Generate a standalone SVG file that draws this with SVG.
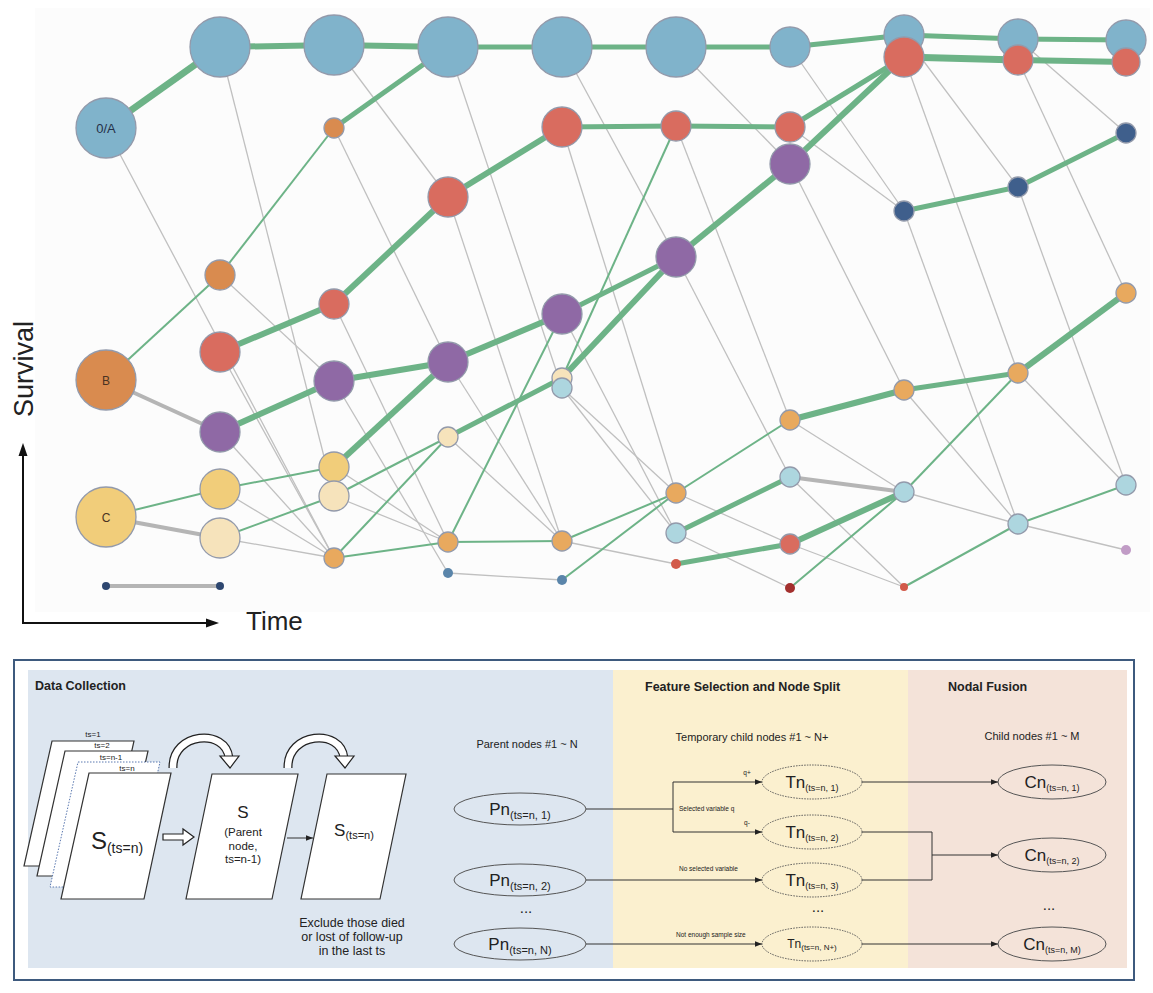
<svg xmlns="http://www.w3.org/2000/svg" width="1153" height="993" viewBox="0 0 1153 993">
<defs>
<style>
text{font-family:'Liberation Sans',Arial,sans-serif;fill:#222}
.gk{stroke:#6db387;stroke-linecap:butt}
.gt{stroke:#6db387;stroke-width:2}
.gy{stroke:#c0c0c0;stroke-width:1.3}
.gyk{stroke:#b5b5b5;stroke-width:4}
.nd{stroke:#939aab;stroke-width:1.3}
.blue{fill:#80b3cb}.red{fill:#d96c5f}.pur{fill:#8f69a5}.org{fill:#d98b4f}.lor{fill:#e8a95e}
.yel{fill:#f1cd7a}.lye{fill:#f6e3bb}.lbl{fill:#add6df}.dbl{fill:#3f5f8c}.stl{fill:#5a85aa}
.ddb{fill:#2e4770}.drd{fill:#a3302e}.srd{fill:#d25a4a}.spu{fill:#c19cc6}
.nl{font-size:13px;fill:#253048;text-anchor:middle}
.flow{stroke:#333;stroke-width:1;fill:none}
.sheet{fill:#fff;stroke:#333;stroke-width:1.2}
.hd{font-size:12.5px;font-weight:bold}
.sm{font-size:11px}
.tiny{font-size:6.5px}
.ell{stroke:#555;stroke-width:1}
</style>
<marker id="ah" viewBox="0 0 10 10" refX="10" refY="5" markerWidth="7" markerHeight="7" markerUnits="userSpaceOnUse" orient="auto"><path d="M0,1L10,5L0,9z" fill="#222"/></marker>
</defs>
<rect width="1153" height="993" fill="#fff"/>
<rect x="35" y="8" width="1115" height="604" fill="#fcfcfc"/>

<g id="connectors">
<g id="gray-thin">
<line class="gy" x1="106" y1="128" x2="334" y2="558"/>
<line class="gy" x1="220" y1="47" x2="334" y2="496"/>
<line class="gy" x1="220" y1="275" x2="334" y2="381"/>
<line class="gy" x1="220" y1="352" x2="334" y2="558"/>
<line class="gy" x1="220" y1="432" x2="334" y2="558"/>
<line class="gy" x1="220" y1="489" x2="334" y2="558"/>
<line class="gy" x1="220" y1="538" x2="334" y2="558"/>
<line class="gy" x1="334" y1="45" x2="448" y2="197"/>
<line class="gy" x1="334" y1="128" x2="448" y2="362"/>
<line class="gy" x1="334" y1="304" x2="448" y2="542"/>
<line class="gy" x1="334" y1="381" x2="448" y2="573"/>
<line class="gy" x1="334" y1="467" x2="448" y2="542"/>
<line class="gy" x1="334" y1="496" x2="448" y2="542"/>
<line class="gy" x1="448" y1="47" x2="562" y2="388"/>
<line class="gy" x1="448" y1="197" x2="562" y2="541"/>
<line class="gy" x1="448" y1="362" x2="562" y2="541"/>
<line class="gy" x1="448" y1="437" x2="562" y2="541"/>
<line class="gy" x1="448" y1="573" x2="562" y2="580"/>
<line class="gy" x1="562" y1="47" x2="676" y2="257"/>
<line class="gy" x1="562" y1="127" x2="676" y2="493"/>
<line class="gy" x1="562" y1="314" x2="676" y2="533"/>
<line class="gy" x1="562" y1="388" x2="676" y2="493"/>
<line class="gy" x1="562" y1="388" x2="676" y2="533"/>
<line class="gy" x1="562" y1="541" x2="676" y2="564"/>
<line class="gy" x1="676" y1="47" x2="790" y2="164"/>
<line class="gy" x1="676" y1="126" x2="790" y2="420"/>
<line class="gy" x1="676" y1="257" x2="790" y2="477"/>
<line class="gy" x1="676" y1="493" x2="790" y2="544"/>
<line class="gy" x1="676" y1="533" x2="790" y2="588"/>
<line class="gy" x1="790" y1="47" x2="904" y2="211"/>
<line class="gy" x1="790" y1="127" x2="904" y2="211"/>
<line class="gy" x1="790" y1="164" x2="904" y2="390"/>
<line class="gy" x1="790" y1="420" x2="904" y2="492"/>
<line class="gy" x1="790" y1="477" x2="904" y2="587"/>
<line class="gy" x1="790" y1="544" x2="904" y2="587"/>
<line class="gy" x1="904" y1="35" x2="1018" y2="187"/>
<line class="gy" x1="904" y1="57" x2="1018" y2="373"/>
<line class="gy" x1="904" y1="211" x2="1018" y2="524"/>
<line class="gy" x1="904" y1="390" x2="1018" y2="524"/>
<line class="gy" x1="904" y1="492" x2="1018" y2="524"/>
<line class="gy" x1="1018" y1="39" x2="1126" y2="133"/>
<line class="gy" x1="1018" y1="60" x2="1126" y2="293"/>
<line class="gy" x1="1018" y1="187" x2="1126" y2="485"/>
<line class="gy" x1="1018" y1="373" x2="1126" y2="485"/>
<line class="gy" x1="1018" y1="524" x2="1126" y2="550"/>
</g>
<g id="gray-thick">
<line class="gyk" x1="106" y1="380" x2="220" y2="432"/>
<line class="gyk" x1="106" y1="517" x2="220" y2="538"/>
<line class="gyk" x1="106" y1="586" x2="220" y2="586"/>
<line class="gyk" x1="790" y1="477" x2="904" y2="492"/>
</g>
<g id="green-thin">
<line class="gt" x1="106" y1="380" x2="220" y2="275"/>
<line class="gt" x1="220" y1="275" x2="334" y2="128"/>
<line class="gt" x1="106" y1="517" x2="220" y2="489"/>
<line class="gt" x1="220" y1="489" x2="334" y2="467"/>
<line class="gt" x1="220" y1="538" x2="334" y2="496"/>
<line class="gt" x1="334" y1="496" x2="448" y2="437"/>
<line class="gt" x1="334" y1="558" x2="448" y2="437"/>
<line class="gt" x1="334" y1="558" x2="448" y2="542"/>
<line class="gt" x1="448" y1="542" x2="562" y2="314"/>
<line class="gt" x1="448" y1="542" x2="562" y2="541"/>
<line class="gt" x1="562" y1="378" x2="676" y2="126"/>
<line class="gt" x1="562" y1="541" x2="676" y2="493"/>
<line class="gt" x1="562" y1="580" x2="676" y2="493"/>
<line class="gt" x1="676" y1="493" x2="790" y2="420"/>
<line class="gt" x1="790" y1="588" x2="904" y2="492"/>
<line class="gt" x1="904" y1="492" x2="1018" y2="373"/>
<line class="gt" x1="904" y1="587" x2="1018" y2="524"/>
<line class="gt" x1="1018" y1="524" x2="1126" y2="485"/>
</g>
<g id="green-thick">
<line class="gk" stroke-width="7" x1="106" y1="128" x2="220" y2="47"/>
<line class="gk" stroke-width="6" x1="220" y1="47" x2="334" y2="45"/>
<line class="gk" stroke-width="6" x1="334" y1="45" x2="448" y2="47"/>
<line class="gk" stroke-width="5" x1="448" y1="47" x2="562" y2="47"/>
<line class="gk" stroke-width="5" x1="562" y1="47" x2="676" y2="47"/>
<line class="gk" stroke-width="5" x1="676" y1="47" x2="790" y2="47"/>
<line class="gk" stroke-width="5" x1="790" y1="47" x2="904" y2="35"/>
<line class="gk" stroke-width="5" x1="904" y1="35" x2="1018" y2="39"/>
<line class="gk" stroke-width="5" x1="1018" y1="39" x2="1126" y2="40"/>
<line class="gk" stroke-width="5" x1="334" y1="128" x2="448" y2="47"/>
<line class="gk" stroke-width="6" x1="220" y1="352" x2="334" y2="304"/>
<line class="gk" stroke-width="6" x1="334" y1="304" x2="448" y2="197"/>
<line class="gk" stroke-width="6" x1="448" y1="197" x2="562" y2="127"/>
<line class="gk" stroke-width="5" x1="562" y1="127" x2="676" y2="126"/>
<line class="gk" stroke-width="5" x1="676" y1="126" x2="790" y2="127"/>
<line class="gk" stroke-width="5" x1="790" y1="127" x2="904" y2="57"/>
<line class="gk" stroke-width="6" x1="790" y1="164" x2="904" y2="57"/>
<line class="gk" stroke-width="7" x1="904" y1="57" x2="1018" y2="60"/>
<line class="gk" stroke-width="6" x1="1018" y1="60" x2="1126" y2="62"/>
<line class="gk" stroke-width="6" x1="220" y1="432" x2="334" y2="381"/>
<line class="gk" stroke-width="6" x1="334" y1="381" x2="448" y2="362"/>
<line class="gk" stroke-width="6" x1="448" y1="362" x2="562" y2="314"/>
<line class="gk" stroke-width="5" x1="562" y1="314" x2="676" y2="257"/>
<line class="gk" stroke-width="6" x1="676" y1="257" x2="790" y2="164"/>
<line class="gk" stroke-width="6" x1="334" y1="467" x2="448" y2="362"/>
<line class="gk" stroke-width="5" x1="448" y1="437" x2="562" y2="378"/>
<line class="gk" stroke-width="6" x1="562" y1="378" x2="676" y2="257"/>
<line class="gk" stroke-width="5" x1="904" y1="211" x2="1018" y2="187"/>
<line class="gk" stroke-width="5" x1="1018" y1="187" x2="1126" y2="133"/>
<line class="gk" stroke-width="6" x1="790" y1="420" x2="904" y2="390"/>
<line class="gk" stroke-width="5" x1="904" y1="390" x2="1018" y2="373"/>
<line class="gk" stroke-width="6" x1="1018" y1="373" x2="1126" y2="293"/>
<line class="gk" stroke-width="5" x1="676" y1="533" x2="790" y2="477"/>
<line class="gk" stroke-width="5" x1="676" y1="564" x2="790" y2="544"/>
<line class="gk" stroke-width="6" x1="790" y1="544" x2="904" y2="492"/>
</g>
</g>

<g id="nodes">
<g id="n-A0"><circle class="nd blue" cx="106" cy="128" r="30"/><text class="nl" x="106" y="133">0/A</text></g>
<g id="n-B0"><circle class="nd org" cx="106" cy="380" r="30"/><text class="nl" x="106" y="385" style="font-size:12px;fill:#4a3322">B</text></g>
<g id="n-C0"><circle class="nd yel" cx="106" cy="517" r="30"/><text class="nl" x="106" y="522" style="font-size:12px;fill:#4a3322">C</text></g>
<g id="n-D0"><circle class="ddb" cx="106" cy="586" r="4"/></g>
<g id="n-A1"><circle class="nd blue" cx="220" cy="47" r="30"/></g>
<g id="n-O1"><circle class="nd org" cx="220" cy="275" r="15"/></g>
<g id="n-R1"><circle class="nd red" cx="220" cy="352" r="20"/></g>
<g id="n-P1"><circle class="nd pur" cx="220" cy="432" r="20"/></g>
<g id="n-Y1"><circle class="nd yel" cx="220" cy="489" r="20"/></g>
<g id="n-L1"><circle class="nd lye" cx="220" cy="538" r="20"/></g>
<g id="n-D1"><circle class="ddb" cx="220" cy="586" r="4"/></g>
<g id="n-A2"><circle class="nd blue" cx="334" cy="45" r="30"/></g>
<g id="n-O2"><circle class="nd org" cx="334" cy="128" r="10"/></g>
<g id="n-R2"><circle class="nd red" cx="334" cy="304" r="15"/></g>
<g id="n-P2"><circle class="nd pur" cx="334" cy="381" r="20"/></g>
<g id="n-Y2"><circle class="nd yel" cx="334" cy="467" r="15"/></g>
<g id="n-L2"><circle class="nd lye" cx="334" cy="496" r="15"/></g>
<g id="n-Or2"><circle class="nd lor" cx="334" cy="558" r="10"/></g>
<g id="n-A3"><circle class="nd blue" cx="448" cy="47" r="30"/></g>
<g id="n-R3"><circle class="nd red" cx="448" cy="197" r="20"/></g>
<g id="n-P3"><circle class="nd pur" cx="448" cy="362" r="20"/></g>
<g id="n-L3"><circle class="nd lye" cx="448" cy="437" r="10"/></g>
<g id="n-Or3"><circle class="nd lor" cx="448" cy="542" r="10"/></g>
<g id="n-D3"><circle class="stl" cx="448" cy="573" r="5"/></g>
<g id="n-A4"><circle class="nd blue" cx="562" cy="47" r="30"/></g>
<g id="n-R4"><circle class="nd red" cx="562" cy="127" r="20"/></g>
<g id="n-P4"><circle class="nd pur" cx="562" cy="314" r="20"/></g>
<g id="n-L4"><circle class="nd lye" cx="562" cy="378" r="10"/></g>
<g id="n-LB4"><circle class="nd lbl" cx="562" cy="388" r="10"/></g>
<g id="n-Or4"><circle class="nd lor" cx="562" cy="541" r="10"/></g>
<g id="n-D4"><circle class="stl" cx="562" cy="580" r="5"/></g>
<g id="n-A5"><circle class="nd blue" cx="676" cy="47" r="30"/></g>
<g id="n-R5"><circle class="nd red" cx="676" cy="126" r="15"/></g>
<g id="n-P5"><circle class="nd pur" cx="676" cy="257" r="20"/></g>
<g id="n-Or5"><circle class="nd lor" cx="676" cy="493" r="10"/></g>
<g id="n-LB5"><circle class="nd lbl" cx="676" cy="533" r="10"/></g>
<g id="n-SR5"><circle class="srd" cx="676" cy="564" r="5"/></g>
<g id="n-A6"><circle class="nd blue" cx="790" cy="47" r="20"/></g>
<g id="n-R6"><circle class="nd red" cx="790" cy="127" r="15"/></g>
<g id="n-P6"><circle class="nd pur" cx="790" cy="164" r="20"/></g>
<g id="n-Or6"><circle class="nd lor" cx="790" cy="420" r="10"/></g>
<g id="n-LB6"><circle class="nd lbl" cx="790" cy="477" r="10"/></g>
<g id="n-R6b"><circle class="nd red" cx="790" cy="544" r="10"/></g>
<g id="n-DR6"><circle class="drd" cx="790" cy="588" r="5"/></g>
<g id="n-A7"><circle class="nd blue" cx="904" cy="35" r="20"/></g>
<g id="n-R7"><circle class="nd red" cx="904" cy="57" r="20"/></g>
<g id="n-DB7"><circle class="nd dbl" cx="904" cy="211" r="10"/></g>
<g id="n-Or7"><circle class="nd lor" cx="904" cy="390" r="10"/></g>
<g id="n-LB7"><circle class="nd lbl" cx="904" cy="492" r="10"/></g>
<g id="n-SR7"><circle class="srd" cx="904" cy="587" r="4"/></g>
<g id="n-A8"><circle class="nd blue" cx="1018" cy="39" r="20"/></g>
<g id="n-R8"><circle class="nd red" cx="1018" cy="60" r="15"/></g>
<g id="n-DB8"><circle class="nd dbl" cx="1018" cy="187" r="10"/></g>
<g id="n-Or8"><circle class="nd lor" cx="1018" cy="373" r="10"/></g>
<g id="n-LB8"><circle class="nd lbl" cx="1018" cy="524" r="10"/></g>
<g id="n-A9"><circle class="nd blue" cx="1126" cy="40" r="20"/></g>
<g id="n-R9"><circle class="nd red" cx="1126" cy="62" r="14"/></g>
<g id="n-DB9"><circle class="nd dbl" cx="1126" cy="133" r="10"/></g>
<g id="n-Or9"><circle class="nd lor" cx="1126" cy="293" r="10"/></g>
<g id="n-LB9"><circle class="nd lbl" cx="1126" cy="485" r="10"/></g>
<g id="n-SP9"><circle class="spu" cx="1126" cy="550" r="5"/></g>
</g>

<g id="axes">
<line x1="23" y1="623" x2="23" y2="452" stroke="#111" stroke-width="2"/>
<polygon points="23,443 18.5,456 27.5,456" fill="#111"/>
<line x1="22" y1="623" x2="208" y2="623" stroke="#111" stroke-width="2"/>
<polygon points="219,623 206,618.5 206,627.5" fill="#111"/>
<text transform="translate(33,369) rotate(-90)" text-anchor="middle" font-size="27">Survival</text>
<text x="246" y="630" font-size="26">Time</text>
</g>

<g id="process-panel">
<rect x="14" y="660" width="1120" height="320" fill="#fff" stroke="#3e5a7e" stroke-width="2"/>
<rect x="28" y="670" width="585" height="298" fill="#dde6f0"/>
<rect x="613" y="670" width="295" height="298" fill="#fbf0cf"/>
<rect x="908" y="670" width="219" height="298" fill="#f4e3d9"/>
<text class="hd" x="35" y="690">Data Collection</text>
<text class="hd" x="645" y="691">Feature Selection and Node Split</text>
<text class="hd" x="948" y="691">Nodal Fusion</text>
<text class="sm" x="527" y="748" text-anchor="middle">Parent nodes #1 ~ N</text>
<text class="sm" x="752" y="741" text-anchor="middle">Temporary child nodes #1 ~ N+</text>
<text class="sm" x="1032" y="740" text-anchor="middle">Child nodes #1 ~ M</text>
</g>

<g id="data-collection">
<g id="sheet-ts1"><polygon class="sheet" points="52,741 134,741 106,866 24,866"/><text x="93" y="737" font-size="8" text-anchor="middle">ts=1</text></g>
<g id="sheet-ts2"><polygon class="sheet" points="65,751 148,751 120,876 37,876"/><text x="102" y="748" font-size="8" text-anchor="middle">ts=2</text></g>
<g id="sheet-tsn1"><polygon points="78,762 160,762 132,887 50,887" fill="#fff" stroke="#5a78b0" stroke-width="1" stroke-dasharray="1.5,1.5"/><text x="111" y="760" font-size="8" text-anchor="middle">ts=n-1</text></g>
<g id="sheet-tsn"><polygon class="sheet" points="89,773 171,773 144,899 61,899"/><text x="127" y="771" font-size="8" text-anchor="middle">ts=n</text>
<text x="117" y="849" text-anchor="middle" font-size="24">S<tspan font-size="14" dy="4">(ts=n)</tspan></text></g>
<g id="hollow-arrow"><polygon points="163,834 183,834 183,829 194,837 183,845 183,840 163,840" fill="#fff" stroke="#222" stroke-width="1.2"/></g>
<g id="sheet-parent"><polygon class="sheet" points="212,774 298,774 272,899 186,899"/>
<text x="243" y="818" text-anchor="middle" font-size="17">S</text>
<text x="243" y="836" text-anchor="middle" font-size="11.5">(Parent</text>
<text x="243" y="850" text-anchor="middle" font-size="11.5">node,</text>
<text x="243" y="863" text-anchor="middle" font-size="11.5">ts=n-1)</text></g>
<g id="sheet-filtered"><polygon class="sheet" points="327,774 406,774 380,899 301,899"/>
<text x="354" y="836" text-anchor="middle" font-size="17">S<tspan font-size="11" dy="3">(ts=n)</tspan></text></g>
<line class="flow" x1="287" y1="838" x2="313" y2="838" marker-end="url(#ah)"/>
<g id="curve1"><path d="M173,768 C172,732 226,728 229,758" fill="none" stroke="#222" stroke-width="9"/><path d="M173,768 C172,732 226,728 229,758" fill="none" stroke="#fff" stroke-width="6.5"/><polygon points="220,756 239,756 230,768" fill="#fff" stroke="#222" stroke-width="1.2"/></g>
<g id="curve2"><path d="M288,768 C287,732 341,728 344,758" fill="none" stroke="#222" stroke-width="9"/><path d="M288,768 C287,732 341,728 344,758" fill="none" stroke="#fff" stroke-width="6.5"/><polygon points="335,756 354,756 345,768" fill="#fff" stroke="#222" stroke-width="1.2"/></g>
<text x="352" y="927" text-anchor="middle" font-size="12.5">Exclude those died</text>
<text x="352" y="941" text-anchor="middle" font-size="12.5">or lost of follow-up</text>
<text x="352" y="955" text-anchor="middle" font-size="12.5">in the last ts</text>
</g>

<g id="flow-connectors">
<polyline class="flow" points="586,809 673,809"/>
<line class="flow" x1="673" y1="782" x2="673" y2="832"/>
<line class="flow" x1="673" y1="782" x2="762" y2="782" marker-end="url(#ah)"/>
<line class="flow" x1="673" y1="832" x2="762" y2="832" marker-end="url(#ah)"/>
<line class="flow" x1="586" y1="880" x2="762" y2="880" marker-end="url(#ah)"/>
<line class="flow" x1="586" y1="944" x2="762" y2="944" marker-end="url(#ah)"/>
<line class="flow" x1="862" y1="782" x2="998" y2="782" marker-end="url(#ah)"/>
<polyline class="flow" points="862,832 932,832 932,880 862,880"/>
<line class="flow" x1="932" y1="855" x2="998" y2="855" marker-end="url(#ah)"/>
<line class="flow" x1="862" y1="944" x2="998" y2="944" marker-end="url(#ah)"/>
<text class="tiny" x="747" y="775" text-anchor="middle">q+</text>
<text class="tiny" x="679" y="811">Selected variable q</text>
<text class="tiny" x="747" y="825" text-anchor="middle">q-</text>
<text class="tiny" x="679" y="871">No selected variable</text>
<text class="tiny" x="676" y="937">Not enough sample size</text>
</g>

<g id="parent-nodes">
<g id="pn1"><ellipse class="ell" cx="520" cy="809" rx="66" ry="16" fill="#dde6f0"/><text x="520" y="815" text-anchor="middle" font-size="17">Pn<tspan font-size="11" dy="4">(ts=n, 1)</tspan></text></g>
<g id="pn2"><ellipse class="ell" cx="520" cy="880" rx="66" ry="16" fill="#dde6f0"/><text x="520" y="886" text-anchor="middle" font-size="17">Pn<tspan font-size="11" dy="4">(ts=n, 2)</tspan></text></g>
<text x="526" y="913" text-anchor="middle" font-size="15">...</text>
<g id="pnN"><ellipse class="ell" cx="520" cy="944" rx="66" ry="16" fill="#dde6f0"/><text x="520" y="950" text-anchor="middle" font-size="17">Pn<tspan font-size="11" dy="4">(ts=n, N)</tspan></text></g>
</g>

<g id="temp-nodes">
<g id="tn1"><ellipse class="ell" cx="812" cy="782" rx="50" ry="17" fill="#fbf0cf" stroke-dasharray="1.5,1.2"/><text x="812" y="788" text-anchor="middle" font-size="17">Tn<tspan font-size="9" dy="3">(ts=n, 1)</tspan></text></g>
<g id="tn2"><ellipse class="ell" cx="812" cy="832" rx="50" ry="17" fill="#fbf0cf" stroke-dasharray="1.5,1.2"/><text x="812" y="838" text-anchor="middle" font-size="17">Tn<tspan font-size="9" dy="3">(ts=n, 2)</tspan></text></g>
<g id="tn3"><ellipse class="ell" cx="812" cy="880" rx="50" ry="17" fill="#fbf0cf" stroke-dasharray="1.5,1.2"/><text x="812" y="886" text-anchor="middle" font-size="17">Tn<tspan font-size="9" dy="3">(ts=n, 3)</tspan></text></g>
<text x="818" y="912" text-anchor="middle" font-size="15">...</text>
<g id="tnN"><ellipse class="ell" cx="812" cy="944" rx="50" ry="17" fill="#fbf0cf" stroke-dasharray="1.5,1.2"/><text x="812" y="948" text-anchor="middle" font-size="12">Tn<tspan font-size="8" dy="2">(ts=n, N+)</tspan></text></g>
</g>

<g id="child-nodes">
<g id="cn1"><ellipse class="ell" cx="1052" cy="782" rx="54" ry="17" fill="#f4e3d9"/><text x="1052" y="788" text-anchor="middle" font-size="17">Cn<tspan font-size="9" dy="3">(ts=n, 1)</tspan></text></g>
<g id="cn2"><ellipse class="ell" cx="1052" cy="855" rx="54" ry="17" fill="#f4e3d9"/><text x="1052" y="861" text-anchor="middle" font-size="17">Cn<tspan font-size="9" dy="3">(ts=n, 2)</tspan></text></g>
<text x="1049" y="910" text-anchor="middle" font-size="15">...</text>
<g id="cnM"><ellipse class="ell" cx="1052" cy="944" rx="54" ry="17" fill="#f4e3d9"/><text x="1052" y="950" text-anchor="middle" font-size="17">Cn<tspan font-size="9" dy="3">(ts=n, M)</tspan></text></g>
</g>
</svg>
